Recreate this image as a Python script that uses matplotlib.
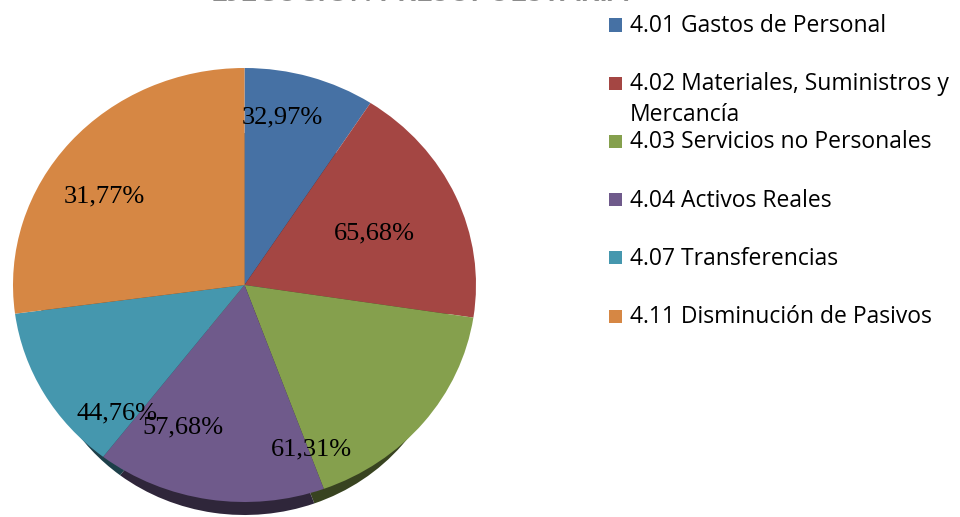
import numpy as np
import matplotlib
matplotlib.use("Agg")
import matplotlib.pyplot as plt
from matplotlib.patches import Rectangle
from matplotlib.colors import to_rgb

# datos
categorias = [
    "4.01 Gastos de Personal",
    "4.02 Materiales, Suministros y\nMercancía",
    "4.03 Servicios no Personales",
    "4.04 Activos Reales",
    "4.07 Transferencias",
    "4.11 Disminución de Pasivos",
]
ejecucion = [32.97, 65.68, 61.31, 57.68, 44.76, 31.77]     # etiquetas (%)
porciones = [32.97, 65.68, 61.31, 57.68, 44.76, 97.60]     # tamaño de cada sector
colores = ["#4671A4", "#A44643", "#85A04D", "#6F5A8B", "#4597AE", "#D68744"]

# posicion de las etiquetas (angulo desde arriba en sentido horario, radio)
pos_etiquetas = [(12, 0.79), (67, 0.61), (159, 0.81), (202, 0.71), (223, 0.81), (304, 0.73)]

W, H = 960, 517
fig = plt.figure(figsize=(W / 100, H / 100), dpi=100)

# ejes del pastel en pixeles
izq, der, arriba, abajo_cara = 13, 476, 68, 502
ry_px = (abajo_cara - arriba) / 2
ax = fig.add_axes([izq / W, 0, (der - izq) / W, (H - arriba) / H])

# canto inferior (efecto 3D): pastel oscuro un poco mas chico y desplazado hacia abajo
profundidad = 13 / ry_px
r_canto = 0.88
oscuros = [tuple(c * 0.42 for c in to_rgb(col)) for col in colores]
ax.pie(porciones, colors=oscuros, startangle=90, counterclock=False, radius=r_canto,
       center=(0, -1 - profundidad + r_canto), wedgeprops=dict(linewidth=0))
ax.pie(porciones, colors=colores, startangle=90, counterclock=False,
       wedgeprops=dict(linewidth=0))
ax.set_aspect("auto")
ax.set_xlim(-1, 1)
ax.set_ylim(-1 - (H - abajo_cara) / ry_px, 1)
ax.axis("off")

for val, (ang, r) in zip(ejecucion, pos_etiquetas):
    a = np.radians(ang)
    ax.text(r * np.sin(a), r * np.cos(a), f"{val:.2f}%".replace(".", ","),
            ha="center", va="center", fontsize=19, family="Liberation Serif",
            color="black")

# titulo (cortado en el original, solo asoma el borde inferior)
fig.text(420 / W, 1 - 0.7 / H, "EJECUCIÓN PRESUPUESTARIA", ha="center", va="baseline",
         fontsize=21, fontweight="bold", color="#8c8c8c", family="Lato")

# leyenda manual
y0, paso = 25, 58.2
for i, (cat, col) in enumerate(zip(categorias, colores)):
    yc = y0 + i * paso
    fig.patches.append(Rectangle((609 / W, 1 - (yc + 6.5) / H), 13 / W, 13 / H,
                                 transform=fig.transFigure, facecolor=col,
                                 edgecolor="none"))
    fig.text(630 / W, 1 - (yc - 11) / H, cat, ha="left", va="top",
             fontsize=16.5, family="Open Sans", color="black", linespacing=1.36)

fig.savefig("out.png", dpi=100)
